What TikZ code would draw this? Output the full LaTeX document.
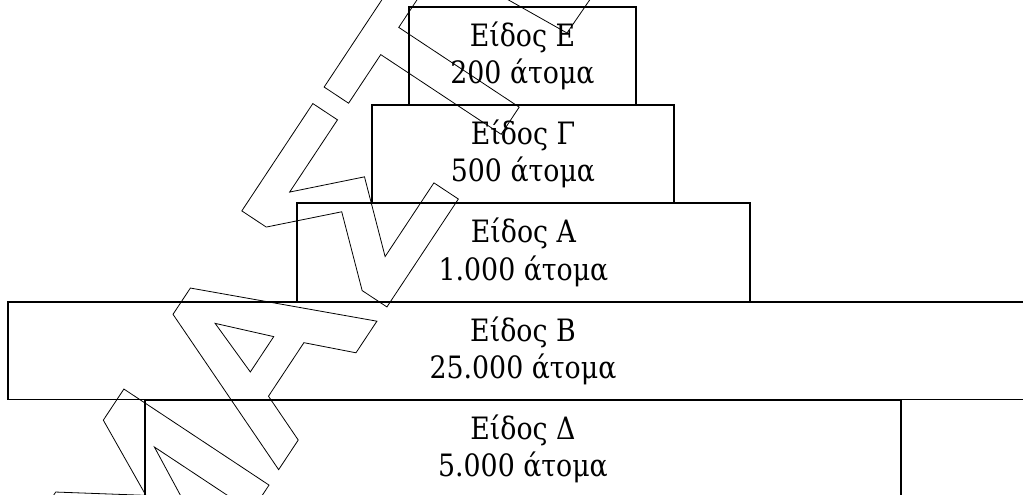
\documentclass[tikz,border=0pt]{standalone}
\usepackage{fontspec}
\setmainfont{DejaVu Serif}[FakeStretch=0.87]
\begin{document}
\begin{tikzpicture}[x=1pt,y=-1pt,
  box/.style={draw,line width=1.1pt,inner sep=0pt,align=center,
    font=\fontsize{30.8}{37.5}\selectfont},
  wm/.style={draw,line width=0.8pt,line join=miter}]
\useasboundingbox (0,0) rectangle (1023,495);
\clip (0,0) rectangle (1023,495);
% pyramid boxes
\node[box,minimum width=227pt,minimum height=98pt] (E) at (522.5,56) {Είδος Ε\\200 άτομα};
\node[box,minimum width=302pt,minimum height=98pt] (G) at (523,154) {Είδος Γ\\500 άτομα};
\node[box,minimum width=453pt,minimum height=99pt] (A) at (523.5,252.5) {Είδος Α\\1.000 άτομα};
\node[box,minimum width=1030pt,minimum height=97.5pt] (B) at (523,350.75) {Είδος Β\\25.000 άτομα};
\node[box,minimum width=756pt,minimum height=98pt] (D) at (523,449) {Είδος Δ\\5.000 άτομα};
% watermark outlines (letter coordinates, rotated)
\begin{scope}[x={(0.552pt,0.834pt)},y={(-0.834pt,0.552pt)}]
\draw[wm] (-420,-318) -- (-379.5,-318) -- (-332.5,-395) -- (-293.3,-318) -- (-256,-318)
  -- (-256,-492) -- (-287.5,-492) -- (-287.5,-375.4) -- (-336,-466) -- (-385,-375.4)
  -- (-388,-492) -- (-420,-492) -- cycle;
\draw[wm] (-166.6,-317.7) -- (-135.1,-317.7) -- (-59.8,-491.5) -- (-97.7,-491.5)
  -- (-118,-442.5) -- (-182.2,-442.5) -- (-202.3,-491.5) -- (-237.8,-491.5) -- cycle;
\draw[wm] (-150.9,-357.8) -- (-129.6,-414) -- (-172,-414) -- cycle;
\draw[wm] (-42.4,-318) -- (86.3,-318) -- (86.3,-347.5) -- (-0.3,-347.5) -- (53.7,-401.5)
  -- (-1.4,-462.7) -- (87,-462.7) -- (87,-492) -- (-42.4,-492) -- (-42.4,-462.3)
  -- (12,-401.8) -- (-42.4,-347.3) -- cycle;
\draw[wm] (106.3,-318.3) -- (255.7,-318.3) -- (255.7,-347.6) -- (197.2,-347.6)
  -- (197.2,-492) -- (164.6,-492) -- (164.6,-347.6) -- (106.3,-347.6) -- cycle;
\end{scope}
\draw[wm] (505,-2) -- (567,33) -- (591,-2);
\end{tikzpicture}
\end{document}
